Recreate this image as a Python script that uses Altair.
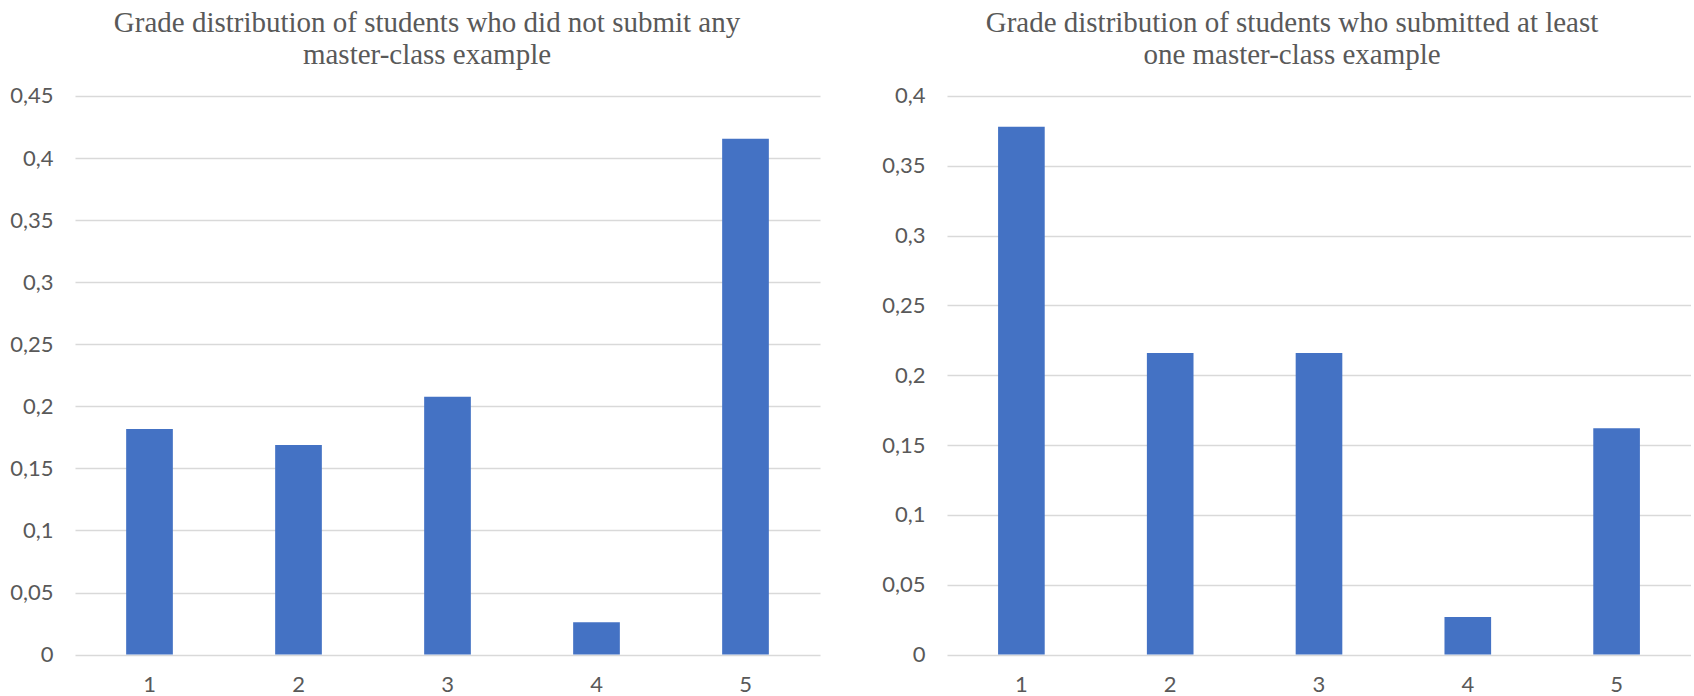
import altair as alt
import pandas as pd

# Grade categories and share of students per grade
grades = ["1", "2", "3", "4", "5"]
no_submission = [0.1818, 0.1688, 0.2078, 0.026, 0.4156]
with_submission = [0.378, 0.216, 0.216, 0.027, 0.162]

left_ticks = [0, 0.05, 0.1, 0.15, 0.2, 0.25, 0.3, 0.35, 0.4, 0.45]
right_ticks = [0, 0.05, 0.1, 0.15, 0.2, 0.25, 0.3, 0.35, 0.4]

left_title = ["Grade distribution of students who did not submit any",
              "master-class example"]
right_title = ["Grade distribution of students who submitted at least",
               "one master-class example"]

BAR = "#4472C4"
TEXT = "#595959"
GRID = "#D9D9D9"
PLOT_H = 558.6

df_left = pd.DataFrame({"grade": grades, "share": no_submission})
df_right = pd.DataFrame({"grade": grades, "share": with_submission})

comma_label = "replace(format(datum.value, '.2~f'), '.', ',')"


def panel(df, ticks, top, title, width, dx):
    x = alt.X(
        "grade:O",
        sort=grades,
        scale=alt.Scale(paddingInner=0.6866, paddingOuter=0.3433),
        axis=alt.Axis(title=None, labelAngle=0, ticks=False, domain=False,
                      labelPadding=20, labelFontSize=22, labelColor=TEXT,
                      labelFont="Lato", grid=False),
    )
    y = alt.Y(
        "share:Q",
        scale=alt.Scale(domain=[0, top], nice=False, zero=True),
        axis=alt.Axis(title=None, values=ticks, labelExpr=comma_label,
                      ticks=False, domain=False, labelPadding=22,
                      labelFontSize=22, labelColor=TEXT, labelFont="Lato",
                      grid=True, gridColor=GRID, gridWidth=1.4),
    )
    return alt.Chart(df).mark_bar(color=BAR).encode(x=x, y=y).properties(
        width=width,
        height=PLOT_H,
        title=alt.TitleParams(
            text=title,
            font="Liberation Serif",
            fontSize=29,
            fontWeight="normal",
            color=TEXT,
            lineHeight=32,
            anchor="middle",
            frame="group",
            offset=15,
            dx=dx,
        ),
    )


left = panel(df_left, left_ticks, 0.45, left_title, 745, -20.5)
right = panel(df_right, right_ticks, 0.4, right_title, 744, -27)

chart = (
    alt.hconcat(left, right, spacing=127, bounds="flush")
    .properties(
        padding={"left": 9, "top": 9, "right": 0, "bottom": 0},
        background="white",
    )
    .configure_view(strokeWidth=0)
)

chart.save("out.html", embed_options={"renderer": "svg", "actions": False})
